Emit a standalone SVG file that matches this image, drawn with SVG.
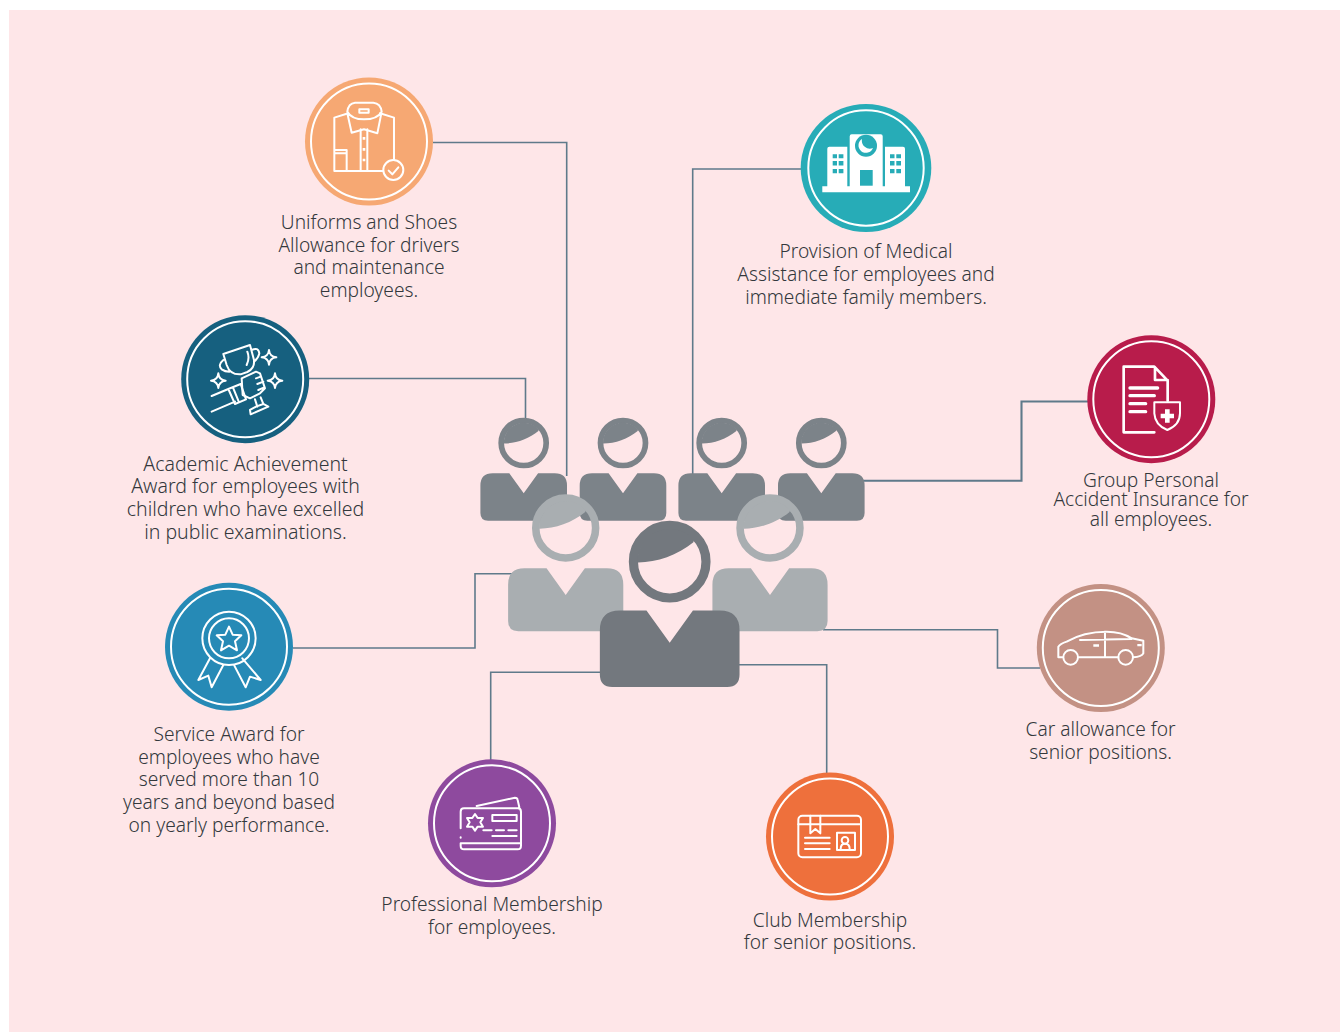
<svg xmlns="http://www.w3.org/2000/svg" width="1343" height="1032" viewBox="0 0 1343 1032">
<style>
text{font-family:"Noto Sans","Open Sans",sans-serif;font-size:19.150px;fill:#33383c;text-anchor:middle;font-weight:300}
.a{font-size:19.500px}
.c{fill:none;stroke:#5f7a8a;stroke-width:1.6}
.t{stroke-width:2.100}
.r{fill:none;stroke:#fff;stroke-width:2}
.i{fill:none;stroke:#fff;stroke-width:6;stroke-linejoin:round;stroke-linecap:round}
.w{fill:#fff}
</style>
<defs>
<g id="p">
<circle cx="0" cy="0" r="22.500" fill="none" stroke-width="5.700" stroke="currentColor"/>
<path d="M-20 0.500A20 20 0 0 1 15 -13.500L14.700 -12C5 -4 -8 0.500 -19.500 0.500Z" fill="currentColor"/>
<path d="M-31 30.300H-14.400L0 50.300L14.400 30.300H31Q43.300 30.300 43.300 42.600V70Q43.300 77.700 35.600 77.700H-35.600Q-43.300 77.700 -43.300 70V42.600Q-43.300 30.300 -31 30.300Z" fill="currentColor"/>
</g>
<path id="s4" d="M0 -22Q2 -2 22 0Q2 2 0 22Q-2 2 -22 0Q-2 -2 0 -22Z"/>
</defs>
<rect width="1343" height="1032" fill="#fff"/>
<rect x="9" y="10" width="1331" height="1022" fill="#fee6e8"/>
<g id="connectors">
<path class="c" d="M433 142.500H566.700V476"/>
<path class="c" d="M802 169H692.700V476"/>
<path class="c" d="M309 378.500H525.500V420"/>
<path class="c t" d="M862 480.700H1021.500V401.500H1088"/>
<path class="c" d="M293 648H475V573.700H512"/>
<path class="c" d="M823 629.700H997.500V668H1040"/>
<path class="c" d="M602 672.300H490.700V760"/>
<path class="c" d="M736 664.700H826.700V774"/>
</g>
<g id="people">
<use href="#p" transform="translate(523.700 443)" color="#7c8389"/>
<use href="#p" transform="translate(623 443)" color="#7c8389"/>
<use href="#p" transform="translate(721.700 443)" color="#7c8389"/>
<use href="#p" transform="translate(821.300 443)" color="#7c8389"/>
<use href="#p" transform="translate(565.700 528) scale(1.33)" color="#a9aeb1"/>
<use href="#p" transform="translate(770 528) scale(1.33)" color="#a9aeb1"/>
<use href="#p" transform="translate(669.700 561.700) scale(1.613)" color="#73787e"/>
</g>
<g id="uniforms">
<circle cx="369" cy="141.500" r="64" fill="#f6a873"/><circle class="r" cx="369" cy="141.500" r="58"/>
<g transform="translate(290 70) scale(.3333)">
<path class="i" d="M175 130L133 143V303H278M312 270V143L270 130M170 240V303M133 240H170M133 250H170M212 178V303M232 178V303"/>
<path class="i" d="M172 125Q175 100 195 98H250Q272 100 275 125Q262 148 222 148Q185 148 172 125ZM172 130L185 188L222 178L262 190L274 130M208 118H236V128H208Z"/>
<circle class="i" cx="310" cy="300" r="30"/><path class="i" d="M296 302L307 313L325 292"/>
<path class="w" d="M218 201h8v8h-8zM218 234h8v8h-8zM218 266h8v8h-8z"/>
</g>
</g>
<g id="medical">
<ellipse cx="866" cy="168" rx="65.300" ry="64" fill="#27acb7"/><circle class="r" cx="866" cy="168" r="57.700"/>
<path class="w" d="M849.700 136.300a2 2 0 0 1 2 -2h29a2 2 0 0 1 2 2v50h-33ZM827.300 148.700a2 2 0 0 1 2 -2h18v40h-20ZM885 146.700h18a2 2 0 0 1 2 2v38h-20ZM822.300 186.300h87.700v6h-87.700Z"/>
<circle cx="866" cy="145.700" r="11" fill="#27acb7"/><path class="w" d="M862 139a7.500 7.500 0 1 0 11 9a8 8 0 0 1 -11 -9Z"/>
<rect x="860" y="170" width="12.700" height="15.700" fill="#27acb7"/>
<path fill="#27acb7" d="M832.700 154.300h4.300v4h-4.300zM838.700 154.300h4.700v4h-4.700zM832.700 161h4.300v4.500h-4.300zM838.700 161h4.700v4.500h-4.700zM832.700 169h4.300v4.300h-4.300zM838.700 169h4.700v4.300h-4.700zM890 154.300h4.500v4h-4.500zM896.300 154.300h4.700v4h-4.700zM890 161h4.500v4.500h-4.500zM896.300 161h4.700v4.500h-4.700zM890 169h4.500v4.300h-4.500zM896.300 169h4.700v4.300h-4.700z"/>
</g>
<g id="academic">
<circle cx="245.200" cy="379.200" r="64" fill="#16607f"/><circle class="r" cx="245.200" cy="379.200" r="58"/>
<g transform="translate(170 310) scale(.3333)">
<path class="i" d="M160 132L240 105L252 150Q255 175 232 186L212 193Q180 195 170 165ZM160 150Q142 165 155 178Q165 185 178 185M245 120Q265 110 268 130Q265 145 252 155M232 125Q240 145 230 165"/>
<path class="i" d="M215 205L258 185L270 190L285 235L270 250L240 265L218 255ZM258 205L272 200M262 222L280 215M265 240L283 232"/>
<path class="i" d="M175 237L212 222L228 268L195 282ZM190 235L205 272M125 258L175 237M125 305L195 275M255 268L262 290M272 262L280 282M240 300L258 290L280 282L295 290L242 313Z"/>
<use href="#s4" class="i" transform="translate(297 142)"/><use href="#s4" class="i" transform="translate(315 212)"/><use href="#s4" class="i" transform="translate(145 212)"/>
</g>
</g>
<g id="insurance">
<circle cx="1151.300" cy="399.200" r="64" fill="#b81c4b"/><circle class="r" cx="1151.300" cy="399.200" r="58"/>
<g transform="translate(1075 330) scale(.3333)">
<path class="i" stroke-linecap="butt" stroke-linejoin="miter" style="stroke-width:8" d="M238 307H146V110H238L278 152V212M240 112V150H278"/>
<path class="i" stroke-linecap="butt" style="stroke-width:10" d="M165 174H248M165 197H238M165 221H212M165 245H212"/>
<path class="i" d="M238 217H315V250Q315 285 277 300Q240 285 238 250Z"/>
<path class="w" d="M270 238h14v13h13v14h-13v13h-14v-13h-13v-14h13z"/>
</g>
</g>
<g id="service">
<circle cx="229" cy="646.700" r="64" fill="#268ab6"/><circle class="r" cx="229" cy="646.700" r="58"/>
<g transform="translate(155 575) scale(.3333)">
<circle class="i" cx="222" cy="190" r="80"/><circle class="i" cx="222" cy="190" r="60"/>
<path class="i" d="M222 155L233 179L259 181L240 199L246 226L222 212L198 226L204 199L185 181L211 179Z"/>
<path class="i" d="M165 250L130 315L160 302L170 337L205 270M262 250L317 315L285 305L272 337L238 272"/>
</g>
</g>
<g id="car">
<circle cx="1100.800" cy="648" r="64" fill="#c39184"/><circle class="r" cx="1100.800" cy="648" r="58"/>
<g transform="translate(1025 575) scale(.3333)">
<path class="i" d="M112 247H100V215Q105 207 125 200Q175 170 245 170Q290 170 320 190L355 197V235Q350 245 325 247M280 247H162M165 195L320 192M240 170V247"/>
<circle class="i" cx="137" cy="247" r="22"/><circle class="i" cx="302" cy="247" r="22"/>
<path class="w" d="M205 208h17v7h-17zM337 207h13v7h-13z"/>
</g>
</g>
<g id="membership">
<circle cx="492" cy="823.300" r="64" fill="#8e4a9e"/><circle class="r" cx="492" cy="823.300" r="58"/>
<g transform="translate(420 750) scale(.3333)">
<path class="i" d="M122 235V185Q122 175 132 175H293Q303 175 303 185V287Q303 298 293 298H132Q122 298 122 287V280H303M122 262V263M170 168L285 143Q292 143 293 150L298 172M217 195H290V213H217ZM190 241H215M228 241H252M265 241H290M217 258H290"/>
<path class="i" d="M165 192L173 204L189 204L181 217L189 230L173 230L165 242L157 230L141 230L149 217L141 204L157 204Z"/>
</g>
</g>
<g id="club">
<circle cx="830" cy="836.500" r="64" fill="#ee703c"/><circle class="r" cx="830" cy="836.500" r="58"/>
<g transform="translate(755 765) scale(.3333)">
<rect class="i" x="130" y="152" width="188" height="125" rx="12"/>
<path class="i" d="M130 178H318M166 152V205L181 192L196 205V152M150 218H224M150 235H224M150 252H224"/>
<rect class="i" x="246" y="203" width="54" height="52"/>
<circle class="i" cx="270" cy="226" r="10"/><path class="i" d="M257 252Q257 236 270 236Q284 236 284 252"/>
</g>
</g>
<g id="labels">
<text x="369" y="229">Uniforms and Shoes</text>
<text x="369" y="252">Allowance for drivers</text>
<text x="369" y="274">and maintenance</text>
<text x="369" y="297">employees.</text>
<text x="866" y="258">Provision of Medical</text>
<text x="866" y="281">Assistance for employees and</text>
<text x="866" y="304">immediate family members.</text>
<text class="a" x="245.500" y="471">Academic Achievement</text>
<text class="a" x="245.500" y="493">Award for employees with</text>
<text class="a" x="245.500" y="516">children who have excelled</text>
<text class="a" x="245.500" y="539">in public examinations.</text>
<text x="1151" y="487">Group Personal</text>
<text x="1151" y="506">Accident Insurance for</text>
<text x="1151" y="526">all employees.</text>
<text x="229" y="741">Service Award for</text>
<text x="229" y="764">employees who have</text>
<text x="229" y="786">served more than 10</text>
<text x="229" y="809">years and beyond based</text>
<text x="229" y="832">on yearly performance.</text>
<text x="1100.500" y="736">Car allowance for</text>
<text x="1100.500" y="759">senior positions.</text>
<text x="492" y="911">Professional Membership</text>
<text x="492" y="934">for employees.</text>
<text x="830" y="927">Club Membership</text>
<text x="830" y="949">for senior positions.</text>
</g>
</svg>
